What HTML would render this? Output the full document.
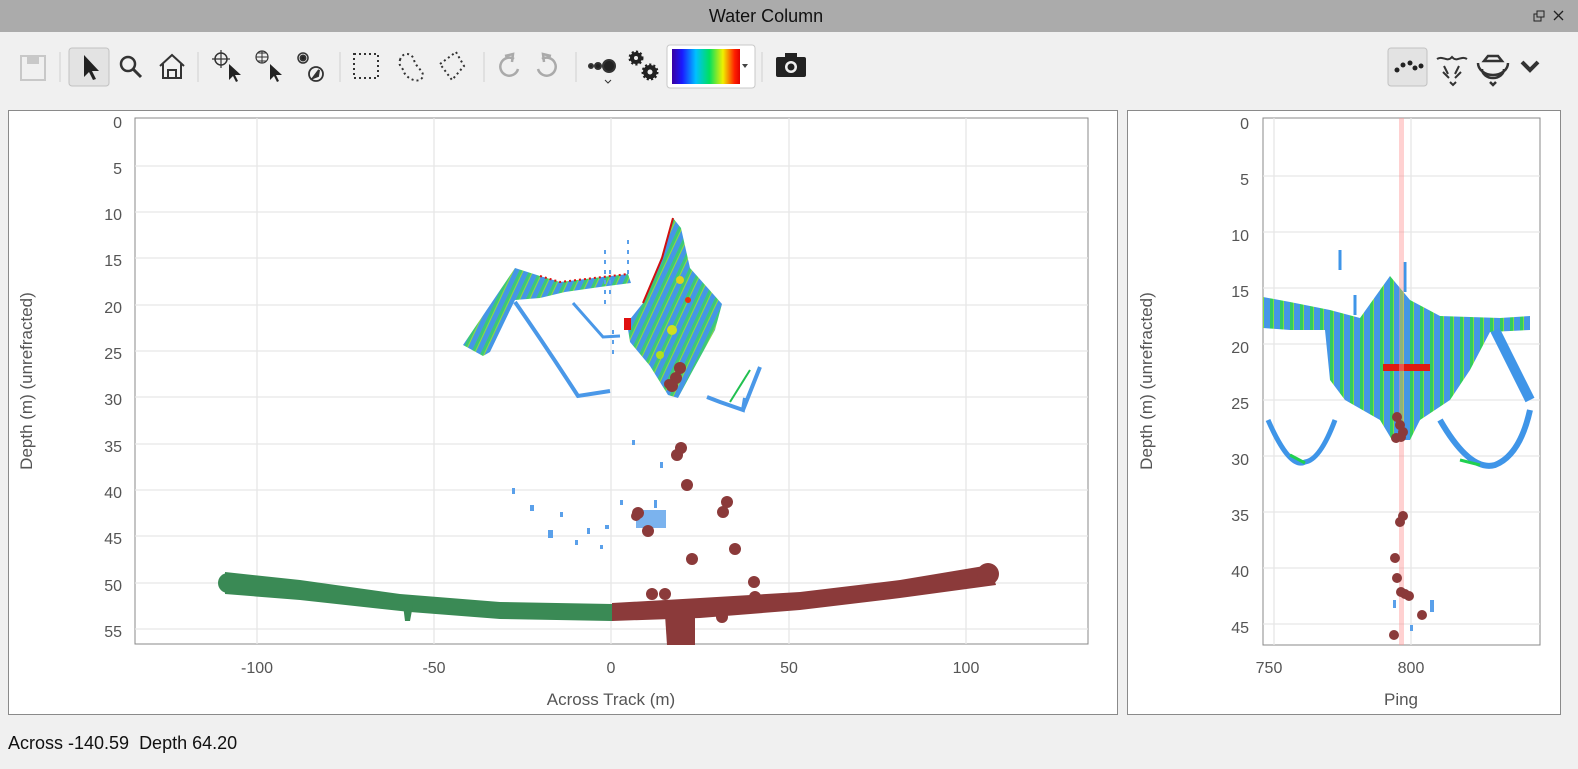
<!DOCTYPE html>
<html><head><meta charset="utf-8"><style>
body{margin:0;width:1578px;height:769px;background:#f0f0f0;font-family:"Liberation Sans",sans-serif;overflow:hidden;position:relative}
.tb{position:absolute;left:0;top:0;width:1578px;height:32px;background:#ababab;}
.tb span{position:absolute;left:0;width:1532px;text-align:center;top:6px;font-size:18px;color:#111}
.panel{position:absolute;background:#fff;border:1px solid #8a8a8a}
.status{position:absolute;left:8px;top:733px;font-size:18px;color:#111}
</style></head><body>
<div class="tb"><span>Water Column</span>
<svg style="position:absolute;left:1530px;top:8px" width="40" height="16"><rect x="4" y="6" width="7" height="7" fill="none" stroke="#222"/><rect x="7" y="3" width="7" height="6" fill="#ababab" stroke="#222"/><path d="M24 3l9 9M33 3l-9 9" stroke="#222" stroke-width="1.3"/></svg></div>
<svg style="position:absolute;left:0;top:32px" width="1578" height="78">
<g fill="none" stroke="#333" stroke-width="2">
<rect x="21" y="24" width="24" height="24" fill="#f0f0f0" stroke="#c8c8c8"/><rect x="27" y="24" width="12" height="8" fill="#c8c8c8" stroke="none"/>
<rect x="69" y="16" width="40" height="38" rx="3" fill="#e3e3e3" stroke="#c2c2c2" stroke-width="1"/>
<path d="M84 23v22l5-5 4 8 3-1-4-8h7z" fill="#222" stroke="none"/>
<circle cx="128" cy="32" r="7" stroke-width="2.5"/><path d="M133 37l8 8" stroke-width="3"/>
<path d="M160 34l12-11 12 11M163 32v14h18v-14M168 46v-8h8v8"/>
<circle cx="221" cy="27" r="6" stroke-width="1.5"/><path d="M221 18v18M212 27h18" stroke-width="1.2"/><path d="M229 32v16l4-4 3 6 2-1-3-6h6z" fill="#222" stroke="none"/>
<circle cx="262" cy="25" r="6" stroke-width="1.2"/><path d="M256 25h12M262 19v12M258 21h8M258 29h8" stroke-width="1"/><path d="M270 32v16l4-4 3 6 2-1-3-6h6z" fill="#222" stroke="none"/>
<circle cx="303" cy="26" r="5" stroke-width="1.5"/><circle cx="303" cy="26" r="2.5" fill="#222"/><circle cx="316" cy="42" r="7" stroke-width="1.8"/><path d="M313 46l6-8-1 6z" fill="#222"/>
<rect x="354" y="22" width="24" height="24" stroke-dasharray="2 3"/>
<path d="M400 28c2-8 12-8 14 0s12 12 8 18-16 0-18-6-6-6-4-12z" stroke-dasharray="2 3"/>
<path d="M440 32l16-12 8 14-12 14z" stroke-dasharray="2 3"/>
<path d="M514 27a9 9 0 1 0 4 10M505 24l8-2-1 8" stroke="#aaa" stroke-width="2.5"/>
<path d="M542 27a9 9 0 1 1-4 10M551 24l-8-2 1 8" stroke="#aaa" stroke-width="2.5"/>
<circle cx="591" cy="34" r="2" fill="#222"/><circle cx="598" cy="34" r="3" fill="#222"/><circle cx="609" cy="34" r="6" fill="#222"/><path d="M605 48l3 3 3-3" stroke-width="1"/>
<g fill="#222" stroke="#222" stroke-width="3" stroke-dasharray="2 2"><circle cx="636" cy="26" r="6"/><circle cx="650" cy="40" r="7"/></g><circle cx="636" cy="26" r="2" fill="#f0f0f0" stroke="none"/><circle cx="650" cy="40" r="2.5" fill="#f0f0f0" stroke="none"/>
<rect x="667" y="13" width="88" height="43" rx="3" fill="#fff" stroke="#c8c8c8" stroke-width="1"/>
<path d="M742 32l3 4 3-4z" fill="#444" stroke="none"/>
<rect x="776" y="25" width="30" height="20" rx="2" fill="#222" stroke="none"/><rect x="785" y="21" width="12" height="5" fill="#222" stroke="none"/><circle cx="791" cy="35" r="6" fill="#f0f0f0" stroke="none"/><circle cx="791" cy="35" r="3.5" fill="#222" stroke="none"/>
<rect x="1388" y="16" width="39" height="38" rx="3" fill="#e3e3e3" stroke="#c2c2c2" stroke-width="1"/>
<g fill="#222" stroke="none"><circle cx="1397" cy="38" r="2.5"/><circle cx="1403" cy="33" r="2.5"/><circle cx="1410" cy="31" r="2.5"/><circle cx="1415" cy="36" r="2.5"/><circle cx="1421" cy="34" r="2.5"/></g>
<path d="M1437 27c6-4 10 4 15-2 5 6 9-2 15 2M1444 34l4 8M1459 34l-4 8M1443 40l6 6M1461 40l-6 6M1450 50l3 3 3-3" stroke-width="2"/>
<path d="M1478 31a15 12 0 0 0 30 0M1482 37a11 9 0 0 0 22 0M1484 29h18l-4-5h-10z M1490 50l3 3 3-3" stroke-width="2.5"/>
<path d="M1522 30l8 8 8-8" stroke-width="4"/>
</g>
<defs><linearGradient id="cb" x1="0" x2="1"><stop offset="0" stop-color="#3a00a0"/><stop offset=".15" stop-color="#1a1aff"/><stop offset=".35" stop-color="#00c0ff"/><stop offset=".55" stop-color="#00e060"/><stop offset=".75" stop-color="#f0f000"/><stop offset=".92" stop-color="#ff2000"/><stop offset="1" stop-color="#e00000"/></linearGradient></defs>
<rect x="672" y="17" width="68" height="35" fill="url(#cb)"/>
<g stroke="#d0d0d0"><path d="M60 20v30M198 20v30M340 20v30M484 20v30M576 20v30M762 20v30"/></g>
</svg>

<div class="panel" style="left:8px;top:110px;width:1108px;height:603px"></div>
<div class="panel" style="left:1127px;top:110px;width:432px;height:603px"></div>

<svg style="position:absolute;left:0;top:0" width="1578" height="769" font-family="Liberation Sans, sans-serif">
<defs>
<pattern id="st" width="9" height="9" patternUnits="userSpaceOnUse" patternTransform="rotate(25)"><rect width="9" height="9" fill="#4596e6"/><rect width="3" height="9" fill="#3cc878"/><rect x="3" width="1" height="9" fill="#90dc40"/></pattern>
<pattern id="st2" width="10" height="8" patternUnits="userSpaceOnUse"><rect width="10" height="8" fill="#4596e6"/><rect width="3" height="8" fill="#32cc60"/><rect x="3" width="1" height="8" fill="#80e040"/></pattern>
</defs>
<!-- left plot -->
<rect x="135" y="118" width="953" height="526" fill="#fff" stroke="#888"/>
<g stroke="#e6e6e6" stroke-width="1.3">
<path d="M257 118v526M434 118v526M611 118v526M789 118v526M966 118v526"/>
<path d="M135 166h953M135 212h953M135 258h953M135 305h953M135 351h953M135 397h953M135 444h953M135 490h953M135 536h953M135 583h953M135 629h953"/>
</g>
<g fill="#555" font-size="16" text-anchor="end">
<text x="122" y="128">0</text><text x="122" y="174">5</text><text x="122" y="220">10</text><text x="122" y="266">15</text><text x="122" y="313">20</text><text x="122" y="359">25</text><text x="122" y="405">30</text><text x="122" y="452">35</text><text x="122" y="498">40</text><text x="122" y="544">45</text><text x="122" y="591">50</text><text x="122" y="637">55</text>
</g>
<g fill="#555" font-size="16" text-anchor="middle">
<text x="257" y="673">-100</text><text x="434" y="673">-50</text><text x="611" y="673">0</text><text x="789" y="673">50</text><text x="966" y="673">100</text>
<text x="611" y="705" font-size="17">Across Track (m)</text>
<text transform="translate(32,381) rotate(-90)" font-size="17">Depth (m) (unrefracted)</text>
<text transform="translate(1152,381) rotate(-90)" font-size="17">Depth (m) (unrefracted)</text>
</g>
<!-- water column left -->
<g>
<path d="M463 345L515 268L540 276L560 282L628 274L631 283L600 287L565 292L540 298L515 300L490 352L483 356Z" fill="url(#st)"/>
<path d="M540 276L560 282L628 274" stroke="#e01010" stroke-width="2" fill="none" stroke-dasharray="2 3"/>
<path d="M515 302Q545 345 578 396L610 391" stroke="#4a98e8" stroke-width="4" fill="none"/>
<path d="M573 303L603 337L620 336" stroke="#4a98e8" stroke-width="3" fill="none"/>
<path d="M673 218L681 228L690 268L722 304L715 330L692 372L678 398L668 395L650 366L630 342L627 323L643 303L662 258Z" fill="url(#st)"/>
<path d="M673 218L662 258L643 303" stroke="#d01010" stroke-width="2" fill="none"/>
<rect x="624" y="318" width="7" height="12" fill="#e01010"/>
<circle cx="680" cy="280" r="4" fill="#e0d020"/><circle cx="672" cy="330" r="5" fill="#d0e020"/><circle cx="688" cy="300" r="3" fill="#e83010"/><circle cx="660" cy="355" r="4" fill="#b0e020"/>
<path d="M707 397L720 402L743 410L745 398M743 410L760 367" stroke="#4a98e8" stroke-width="4" fill="none"/>
<path d="M730 402L750 370" stroke="#20c050" stroke-width="2"/>
<path d="M605 250v60M610 270v30M628 240v40M613 330v30" stroke="#5aa0ea" stroke-width="2" stroke-dasharray="4 6"/>
<g fill="#5aa0ea"><rect x="512" y="488" width="3" height="6"/><rect x="530" y="505" width="4" height="6"/><rect x="548" y="530" width="5" height="8"/><rect x="560" y="512" width="3" height="5"/><rect x="575" y="540" width="3" height="5"/><rect x="600" y="545" width="3" height="4"/><rect x="620" y="500" width="3" height="5"/><rect x="636" y="510" width="30" height="18" opacity=".8"/><rect x="654" y="500" width="3" height="8"/><rect x="660" y="462" width="3" height="6"/><rect x="632" y="440" width="3" height="5"/><rect x="587" y="528" width="3" height="6"/><rect x="605" y="525" width="4" height="4"/></g>
</g>
<!-- seafloor -->
<path d="M225 572L300 580L400 594L500 602L612 604L612 621L500 619L410 612L300 600L225 594Z" fill="#3a8a55"/>
<circle cx="228" cy="583" r="10" fill="#3a8a55"/>
<path d="M403 605l10 0l-3 16h-5z" fill="#3a8a55"/>
<path d="M612 603L700 598L800 592L900 580L990 565L996 585L900 598L800 610L700 618L612 621Z" fill="#8b3a3a"/>
<circle cx="988" cy="574" r="11" fill="#8b3a3a"/>
<path d="M665 615h30v30h-28z" fill="#8b3a3a"/>
<g fill="#8b3a3a">
<circle cx="680" cy="368" r="6"/><circle cx="676" cy="378" r="6"/><circle cx="672" cy="386" r="6"/><circle cx="669" cy="384" r="5"/>
<circle cx="681" cy="448" r="6"/><circle cx="677" cy="455" r="6"/><circle cx="687" cy="485" r="6"/><circle cx="638" cy="513" r="6"/><circle cx="636" cy="516" r="5"/><circle cx="648" cy="531" r="6"/><circle cx="727" cy="502" r="6"/><circle cx="723" cy="512" r="6"/><circle cx="735" cy="549" r="6"/><circle cx="692" cy="559" r="6"/><circle cx="754" cy="582" r="6"/><circle cx="652" cy="594" r="6"/><circle cx="665" cy="594" r="6"/><circle cx="770" cy="600" r="6"/><circle cx="722" cy="617" r="6"/><circle cx="755" cy="597" r="6"/>
</g>

<!-- right plot -->
<rect x="1263" y="118" width="277" height="527" fill="#fff" stroke="#888"/>
<g stroke="#e6e6e6" stroke-width="1.3">
<path d="M1274 118v527M1411 118v527"/>
<path d="M1263 176h277M1263 232h277M1263 288h277M1263 344h277M1263 400h277M1263 456h277M1263 512h277M1263 568h277M1263 624h277"/>
</g>
<g fill="#555" font-size="16" text-anchor="end">
<text x="1249" y="129">0</text><text x="1249" y="185">5</text><text x="1249" y="241">10</text><text x="1249" y="297">15</text><text x="1249" y="353">20</text><text x="1249" y="409">25</text><text x="1249" y="465">30</text><text x="1249" y="521">35</text><text x="1249" y="577">40</text><text x="1249" y="633">45</text>
</g>
<g fill="#555" font-size="16" text-anchor="middle"><text x="1269" y="673">750</text><text x="1411" y="673">800</text><text x="1401" y="705" font-size="17">Ping</text></g>
<path d="M1263 297L1290 302L1330 310L1360 318L1390 276L1410 300L1440 316L1500 318L1530 316L1530 330L1490 332L1470 370L1450 400L1420 420L1410 440L1392 440L1380 420L1345 400L1330 380L1325 330L1290 330L1263 328Z" fill="url(#st2)"/>
<path d="M1268 420Q1290 470 1305 462Q1320 460 1335 420" stroke="#3f95e8" stroke-width="5" fill="none"/>
<path d="M1440 420Q1470 472 1495 465Q1520 455 1530 410" stroke="#3f95e8" stroke-width="6" fill="none"/>
<path d="M1495 330L1530 400" stroke="#3f95e8" stroke-width="10"/>
<path d="M1290 455l15 8M1460 460l20 5" stroke="#20d050" stroke-width="3"/>
<rect x="1383" y="364" width="47" height="7" fill="#e01a10"/>
<path d="M1340 250v20M1355 295v20M1405 262v30" stroke="#3f95e8" stroke-width="3"/>
<rect x="1399" y="118" width="5" height="527" fill="#ff9999" opacity=".45"/>
<g fill="#8b3a3a">
<circle cx="1397" cy="417" r="5"/><circle cx="1400" cy="425" r="5"/><circle cx="1403" cy="432" r="5"/><circle cx="1396" cy="438" r="5"/><circle cx="1401" cy="437" r="5"/>
<circle cx="1403" cy="516" r="5"/><circle cx="1400" cy="522" r="5"/><circle cx="1395" cy="558" r="5"/><circle cx="1397" cy="578" r="5"/><circle cx="1401" cy="592" r="5"/><circle cx="1405" cy="594" r="5"/><circle cx="1409" cy="596" r="5"/><circle cx="1422" cy="615" r="5"/><circle cx="1394" cy="635" r="5"/>
</g>
<g fill="#5aa0ea"><rect x="1393" y="600" width="3" height="8"/><rect x="1430" y="600" width="4" height="12"/><rect x="1410" y="625" width="3" height="6"/></g>
</svg>
<div class="status">Across -140.59&nbsp; Depth 64.20</div>
</body></html>
